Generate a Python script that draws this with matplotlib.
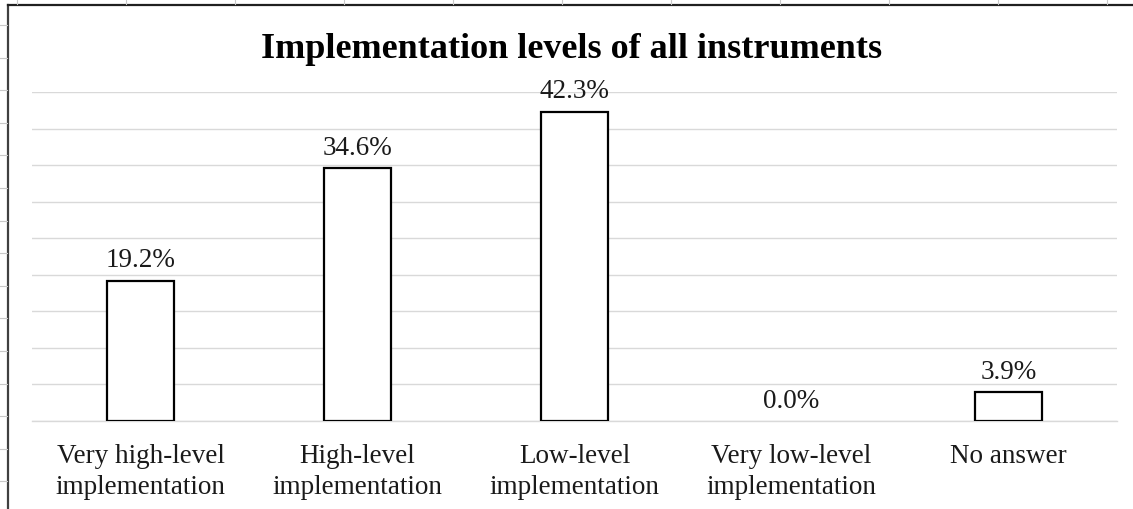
import matplotlib
matplotlib.use("Agg")
import matplotlib.pyplot as plt
from matplotlib.lines import Line2D
import numpy as np

categories = ["Very high-level\nimplementation", "High-level\nimplementation",
              "Low-level\nimplementation", "Very low-level\nimplementation", "No answer"]
values = [19.2, 34.6, 42.3, 0.0, 3.9]
labels = ["19.2%", "34.6%", "42.3%", "0.0%", "3.9%"]
title = "Implementation levels of all instruments"

plt.rcParams['font.family'] = ['Liberation Serif', 'DejaVu Serif']

W, H = 1133, 510
fig = plt.figure(figsize=(W / 100, H / 100), dpi=100)
ax = fig.add_axes([32 / W, 88 / H, 1085 / W, 329 / H])

x = np.arange(len(categories))
bars = ax.bar(x, values, width=0.31, facecolor="white", edgecolor="black", linewidth=1.6, zorder=3)
for b, lab in zip(bars, labels):
    if b.get_height() == 0:
        b.set_linewidth(0)
    ax.annotate(lab, (b.get_x() + b.get_width() / 2, b.get_height()),
                xytext=(0, 6), textcoords="offset points", ha="center", va="bottom",
                fontsize=19.5, color="#1a1a1a")

ax.set_xlim(-0.5, len(categories) - 0.5)
ax.set_ylim(0, 45)
ax.set_yticks(np.arange(0, 46, 5))
ax.yaxis.grid(True, color="#d9d9d9", linewidth=1.0)
ax.axhline(0, color="#d9d9d9", linewidth=1.0, zorder=1, clip_on=False)
ax.set_axisbelow(True)
ax.tick_params(axis="y", left=False, labelleft=False)
ax.set_xticks(x)
ax.set_xticklabels(categories, fontsize=19.5, color="#1a1a1a", linespacing=1.32)
ax.tick_params(axis="x", length=0, pad=16)
for s in ["top", "right", "left", "bottom"]:
    ax.spines[s].set_visible(False)

fig.text(572 / W, 1 - 49 / H, title, ha="center", va="center", fontsize=26, fontweight="bold")

# chart frame (left and top edges) and spreadsheet cell marks
fig.add_artist(Line2D([8 / W, 8 / W], [0, 1 - 6 / H], color="#404040", linewidth=1.6, transform=fig.transFigure))
fig.add_artist(Line2D([8 / W, 1], [1 - 6 / H, 1 - 6 / H], color="#202020", linewidth=1.6, transform=fig.transFigure))
for tx in np.arange(17, W, 109):
    fig.add_artist(Line2D([tx / W, tx / W], [1 - 5 / H, 1], color="#c8c8c8", linewidth=0.8, transform=fig.transFigure))
for ty in np.arange(26, H, 32.6):
    fig.add_artist(Line2D([0, 7 / W], [1 - ty / H, 1 - ty / H], color="#c8c8c8", linewidth=0.8, transform=fig.transFigure))

fig.savefig("out.png", dpi=100, facecolor="white")
